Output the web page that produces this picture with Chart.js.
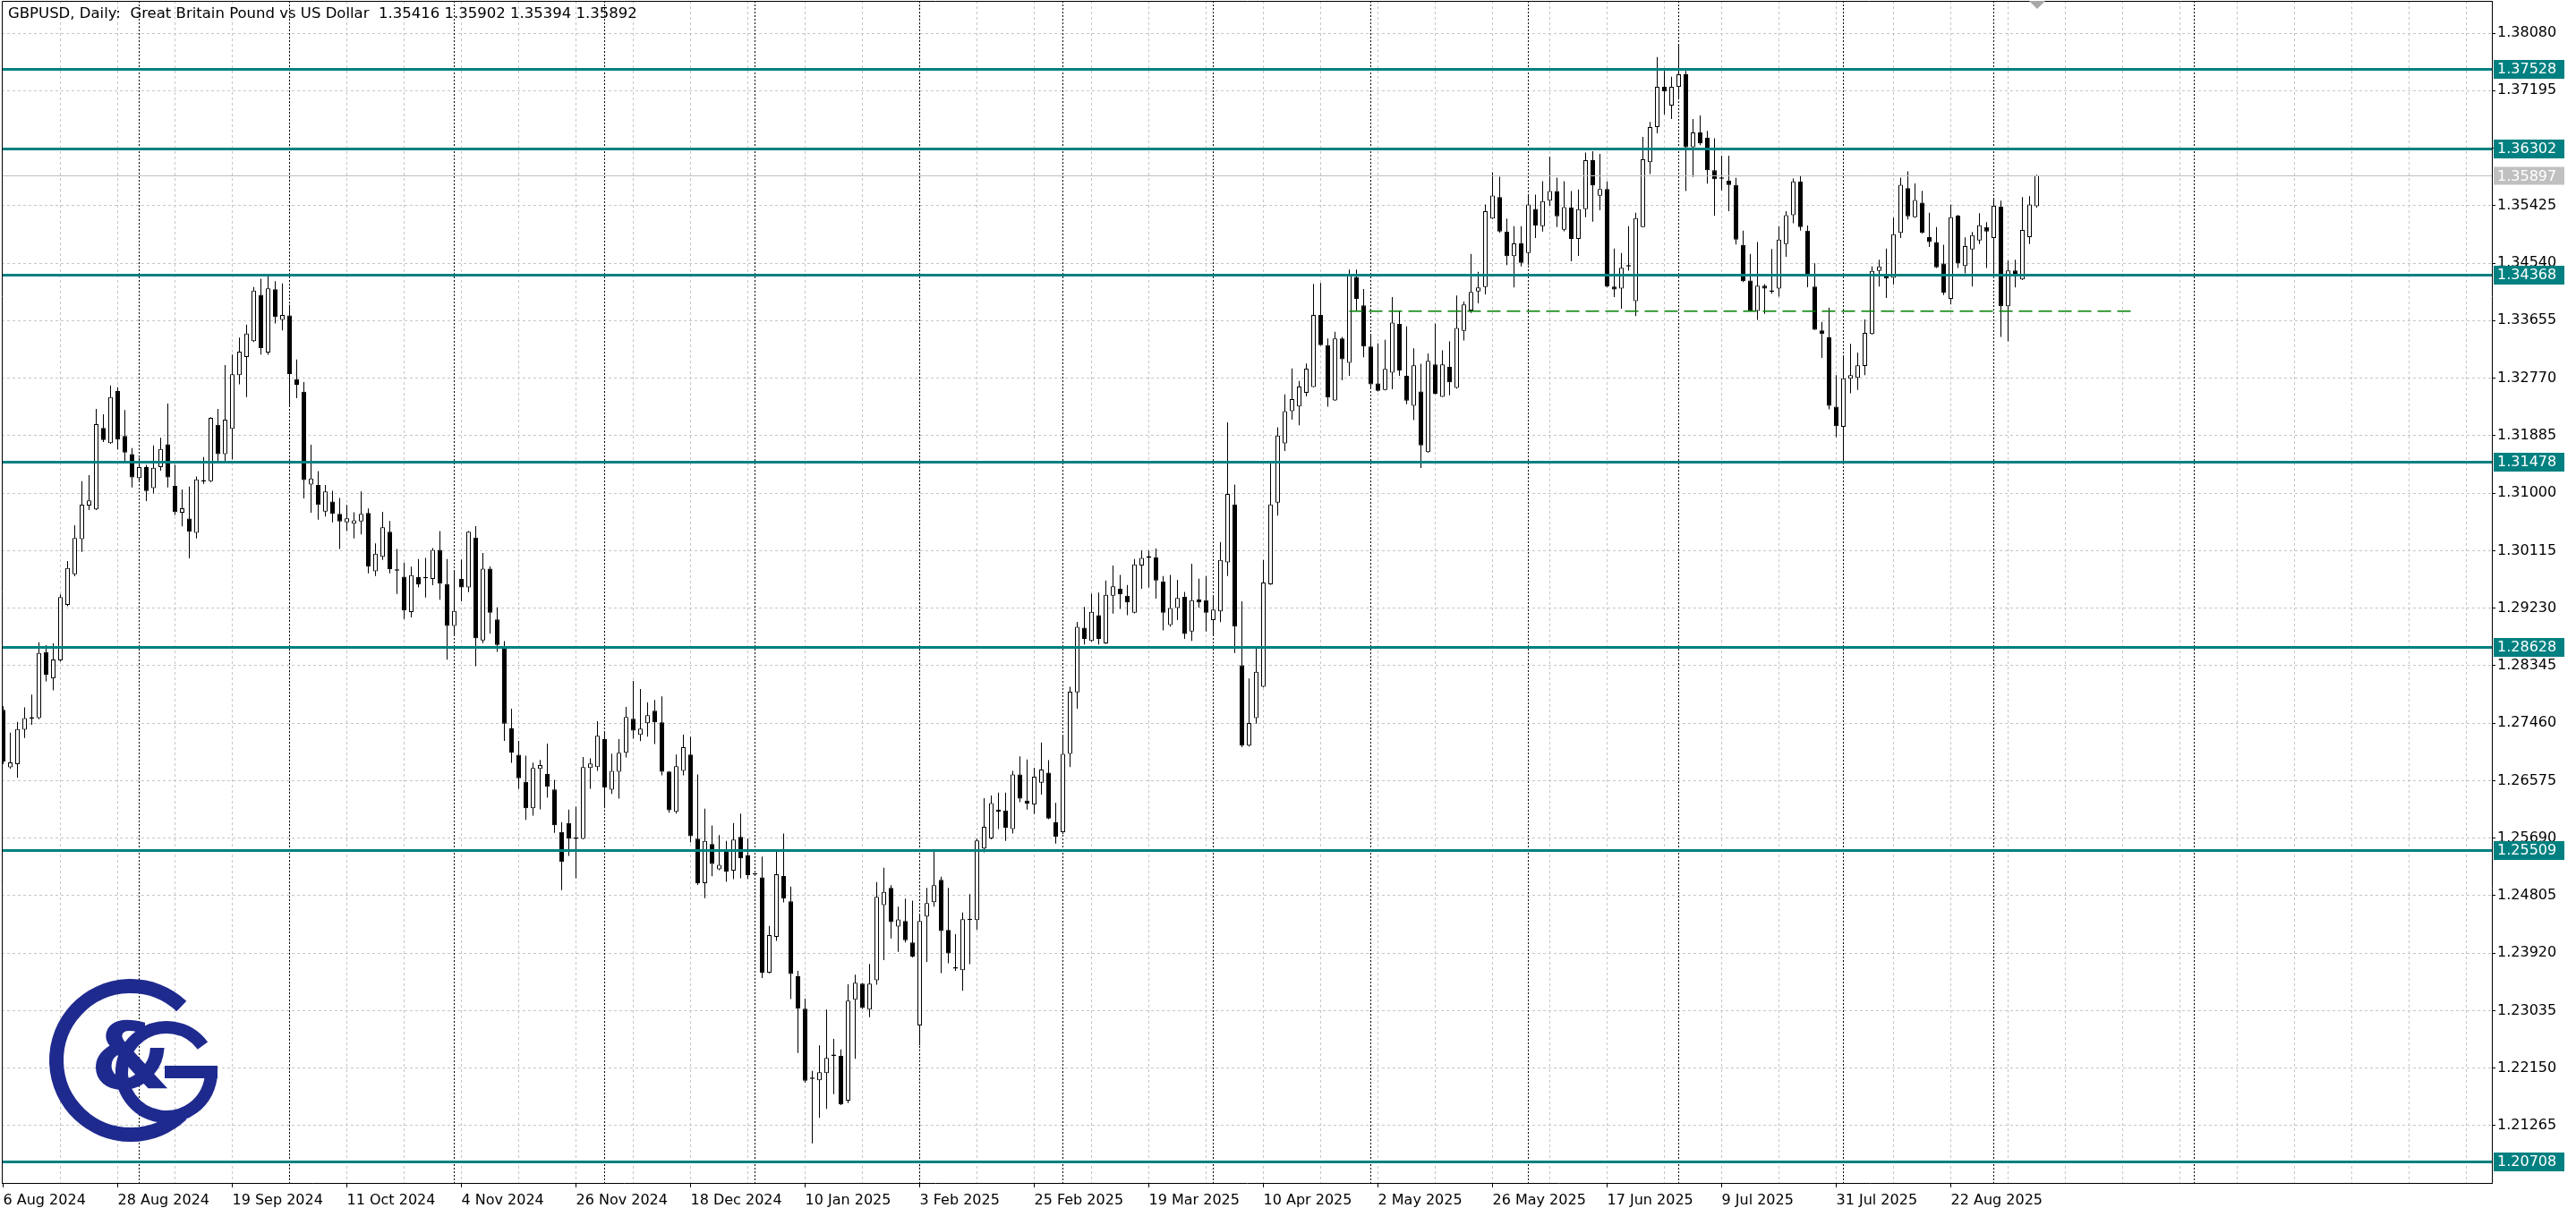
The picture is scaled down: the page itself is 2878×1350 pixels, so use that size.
<!DOCTYPE html>
<html>
<head>
<meta charset="utf-8">
<script src="https://cdn.jsdelivr.net/npm/chart.js@4.4.1/dist/chart.umd.min.js"></script>
<style>
  html, body { margin: 0; padding: 0; background: #fff; overflow: hidden; }
  canvas { display: block; }
</style>
</head>
<body>
<canvas id="chart" width="2878" height="1350"></canvas>
<script>
// GBPUSD daily bars, 6 Aug 2024 .. Sep 2025 (one value per bar)
const opens = [
  1.27664,1.26779,1.26829,1.27358,1.27530,1.27536,1.28555,1.28149,1.28427,1.29279,
  1.29752,1.30292,1.30810,1.30749,1.32002,1.31768,1.32570,1.31879,1.31601,1.31233,
  1.31400,1.31077,1.31400,1.31751,1.31111,1.30699,1.30610,1.30387,1.31180,1.31183,
  1.32052,1.31601,1.31990,1.32815,1.33093,1.33338,1.34053,1.33162,1.34138,1.33665,
  1.33736,1.32755,1.32560,1.31131,1.31125,1.30717,1.30871,1.30682,1.30552,1.30528,
  1.30564,1.30694,1.29796,1.30020,1.30404,1.29810,1.29713,1.29170,1.29707,1.29690,
  1.29678,1.30127,1.29601,1.28957,1.29678,1.29548,1.30316,1.28733,1.29837,1.29057,
  1.28615,1.27380,1.26972,1.26555,1.26151,1.26757,1.26678,1.26440,1.25784,1.25922,
  1.25683,1.25679,1.26770,1.26784,1.27215,1.26435,1.26711,1.27004,1.27527,1.27279,
  1.27458,1.27651,1.27472,1.26715,1.26096,1.26724,1.26977,1.25683,1.24995,1.25600,
  1.25211,1.25477,1.25188,1.25711,1.25431,1.25133,1.25087,1.23619,1.24170,1.25107,
  1.24719,1.23566,1.23065,1.21985,1.21962,1.22073,1.22340,1.22339,1.21650,1.23203,
  1.23451,1.23051,1.23501,1.24659,1.24926,1.24328,1.24416,1.24085,1.22808,1.24485,
  1.24705,1.25050,1.24278,1.23680,1.23658,1.24430,1.24429,1.25532,1.25684,1.26130,
  1.26115,1.25831,1.26671,1.26267,1.26207,1.26542,1.26697,1.25932,1.25780,1.26987,
  1.27932,1.28930,1.28727,1.29121,1.28686,1.29422,1.29527,1.29422,1.29161,1.29886,
  1.30002,1.30014,1.29643,1.28970,1.29231,1.29405,1.28871,1.29364,1.29353,1.29045,
  1.29179,1.29933,1.30825,1.28350,1.27115,1.27538,1.28019,1.29596,1.30854,1.31765,
  1.32263,1.32333,1.32545,1.32635,1.33741,1.33276,1.32428,1.33382,1.33004,1.34327,
  1.33889,1.33257,1.32690,1.32589,1.32852,1.33603,1.32806,1.32345,1.32566,1.31630,
  1.32981,1.32483,1.32944,1.32621,1.33497,1.33810,1.34105,1.34174,1.35225,1.35557,
  1.35027,1.34649,1.34843,1.34695,1.35373,1.35110,1.35502,1.35649,1.35054,1.35398,
  1.34912,1.35370,1.36126,1.35576,1.35682,1.34179,1.34147,1.34490,1.33955,1.35095,
  1.36094,1.36635,1.37253,1.36965,1.37253,1.37446,1.36323,1.36552,1.36470,1.35971,
  1.35842,1.35810,1.35741,1.34821,1.34271,1.33804,1.34193,1.34105,1.34147,1.34834,
  1.35279,1.35796,1.35041,1.34179,1.33506,1.33396,1.32331,1.32022,1.32760,1.32773,
  1.32958,1.33451,1.34419,1.34350,1.34313,1.35004,1.35695,1.35248,1.35470,1.34940,
  1.34866,1.34534,1.33990,1.35271,1.34497,1.34751,1.34889,1.35096,1.34926,1.35410,
  1.33875,1.34428,1.34290,1.34940,1.35416
];
const highs = [
  1.27720,1.27313,1.27480,1.27703,1.27898,1.28705,1.28661,1.28689,1.29440,1.29953,
  1.30504,1.31183,1.31278,1.32297,1.32213,1.32659,1.32631,1.32280,1.31695,1.31545,
  1.31434,1.31734,1.31851,1.32380,1.31434,1.31055,1.31100,1.31255,1.31556,1.32170,
  1.32297,1.32970,1.33132,1.33394,1.33594,1.34173,1.34301,1.34360,1.34262,1.34226,
  1.33901,1.33057,1.32708,1.31745,1.31338,1.31125,1.31036,1.30924,1.30818,1.30706,
  1.31025,1.30765,1.30227,1.30712,1.30570,1.30139,1.29932,1.29867,1.29985,1.30003,
  1.30156,1.30416,1.29985,1.29814,1.29979,1.30416,1.30493,1.30079,1.29873,1.29241,
  1.28721,1.27681,1.27185,1.26960,1.26853,1.26894,1.27146,1.26587,1.25935,1.26128,
  1.26174,1.26940,1.26917,1.27490,1.27334,1.26990,1.27215,1.27711,1.28110,1.27986,
  1.27779,1.27816,1.27871,1.26720,1.26977,1.27284,1.27252,1.26669,1.26142,1.25885,
  1.25738,1.25646,1.25922,1.26068,1.25683,1.25150,1.25408,1.24339,1.25509,1.25762,
  1.24944,1.23648,1.23221,1.22109,1.22500,1.23051,1.22601,1.22440,1.23442,1.23589,
  1.23460,1.23754,1.25013,1.25233,1.24967,1.24636,1.24760,1.24728,1.24521,1.24926,
  1.25486,1.25096,1.24926,1.24213,1.24544,1.24829,1.25684,1.26304,1.26345,1.26391,
  1.26391,1.26726,1.26950,1.26900,1.26772,1.27161,1.26889,1.26233,1.27260,1.28019,
  1.29017,1.29248,1.29451,1.29469,1.29654,1.29886,1.29741,1.29585,1.29985,1.30118,
  1.30118,1.30147,1.29724,1.29741,1.29666,1.29480,1.29915,1.29683,1.29724,1.29405,
  1.30246,1.32089,1.31133,1.29335,1.28147,1.28611,1.29973,1.31463,1.32014,1.32518,
  1.32918,1.32727,1.32995,1.34221,1.34234,1.33382,1.33483,1.33405,1.34442,1.34442,
  1.34142,1.33442,1.33303,1.33359,1.34018,1.33796,1.33566,1.33230,1.32990,1.33151,
  1.33612,1.33197,1.33336,1.34041,1.33949,1.34681,1.34405,1.35442,1.35940,1.35871,
  1.35225,1.35110,1.35110,1.35603,1.35594,1.35801,1.36179,1.35857,1.35801,1.35650,
  1.35673,1.36241,1.36264,1.36222,1.35796,1.34766,1.34697,1.35109,1.35315,1.36484,
  1.36713,1.37711,1.37500,1.37409,1.37913,1.37500,1.36758,1.36813,1.36575,1.36461,
  1.36195,1.36195,1.35851,1.35041,1.34683,1.34866,1.34216,1.34756,1.35109,1.35338,
  1.35842,1.35879,1.35118,1.34537,1.33635,1.33856,1.32815,1.33119,1.33299,1.33165,
  1.33672,1.34488,1.34594,1.34764,1.35239,1.35857,1.35954,1.35765,1.35654,1.35317,
  1.35096,1.34824,1.35442,1.35281,1.34935,1.35018,1.35308,1.35170,1.35525,1.35502,
  1.34580,1.34594,1.35557,1.35571,1.35902
];
const lows = [
  1.26830,1.26760,1.26617,1.27230,1.27436,1.27520,1.28104,1.27965,1.28410,1.29260,
  1.29719,1.30097,1.30738,1.30740,1.31785,1.31760,1.31668,1.31489,1.31088,1.31166,
  1.30877,1.30999,1.31345,1.31088,1.30665,1.30487,1.29997,1.30303,1.31144,1.31170,
  1.31489,1.31489,1.31517,1.32675,1.32480,1.33327,1.33132,1.33130,1.33612,1.33506,
  1.32354,1.32460,1.30918,1.30700,1.30593,1.30641,1.30552,1.30139,1.30416,1.30304,
  1.30363,1.29766,1.29725,1.29973,1.29766,1.29448,1.29063,1.29087,1.29548,1.29394,
  1.29583,1.29359,1.28437,1.28821,1.29335,1.29477,1.28337,1.28691,1.28839,1.28556,
  1.27185,1.26848,1.26447,1.25970,1.26036,1.26133,1.26312,1.25770,1.24890,1.25417,
  1.25073,1.25670,1.26449,1.26724,1.26151,1.26371,1.26298,1.26931,1.27220,1.27183,
  1.27252,1.27137,1.26656,1.26082,1.26068,1.26656,1.25624,1.24968,1.24766,1.25105,
  1.25197,1.25018,1.25059,1.25073,1.25059,1.25110,1.23536,1.23610,1.24110,1.24700,
  1.23212,1.22385,1.21926,1.20993,1.21384,1.21521,1.21751,1.21580,1.21613,1.22293,
  1.23060,1.22936,1.23432,1.23813,1.24145,1.23938,1.24085,1.23855,1.22500,1.23786,
  1.24636,1.23612,1.23763,1.23648,1.23341,1.23750,1.24282,1.25472,1.25670,1.25831,
  1.25647,1.25762,1.26244,1.26129,1.26060,1.26360,1.25980,1.25607,1.25750,1.26784,
  1.27683,1.28669,1.28710,1.28669,1.28680,1.29144,1.29219,1.29121,1.29150,1.29527,
  1.29550,1.29376,1.28889,1.28947,1.29045,1.28756,1.28727,1.29237,1.28871,1.28813,
  1.29016,1.29724,1.28541,1.27091,1.27100,1.27451,1.28010,1.29590,1.30652,1.31649,
  1.32130,1.32043,1.32490,1.32630,1.33270,1.32331,1.32420,1.32736,1.32806,1.33796,
  1.33091,1.32598,1.32566,1.32580,1.32598,1.32806,1.32368,1.32123,1.31386,1.31620,
  1.32520,1.32480,1.32506,1.32610,1.33349,1.33773,1.33921,1.34059,1.35220,1.35009,
  1.34511,1.34165,1.34488,1.34511,1.34926,1.35027,1.35423,1.35096,1.35030,1.34569,
  1.34651,1.35247,1.35178,1.35352,1.34170,1.34019,1.33840,1.34422,1.33726,1.35090,
  1.35911,1.36539,1.36827,1.36758,1.37056,1.35650,1.35865,1.36355,1.35764,1.35270,
  1.35659,1.35338,1.34825,1.34248,1.33800,1.33666,1.33758,1.34069,1.34024,1.34637,
  1.35155,1.35041,1.34170,1.33510,1.33082,1.32289,1.31861,1.31492,1.32538,1.32589,
  1.32815,1.33440,1.34179,1.34004,1.34211,1.34926,1.35211,1.35240,1.34995,1.34787,
  1.34465,1.34050,1.33903,1.34465,1.34382,1.34179,1.34834,1.34465,1.34373,1.33405,
  1.33336,1.34165,1.34280,1.34834,1.35394
];
const closes = [
  1.26868,1.26857,1.27369,1.27536,1.27540,1.28538,1.28204,1.28438,1.29401,1.29847,
  1.30309,1.30821,1.30888,1.32063,1.31818,1.32480,1.31829,1.31623,1.31244,1.31400,
  1.31033,1.31389,1.31679,1.31244,1.30710,1.30766,1.30404,1.31211,1.31200,1.32157,
  1.31601,1.32130,1.32831,1.33176,1.33455,1.34117,1.33233,1.34150,1.33712,1.33742,
  1.32832,1.32667,1.31202,1.31225,1.30818,1.31025,1.30682,1.30564,1.30611,1.30582,
  1.30682,1.29873,1.30068,1.30475,1.29831,1.29805,1.29193,1.29737,1.29595,1.29700,
  1.30127,1.29607,1.28957,1.29188,1.29548,1.30404,1.28768,1.29837,1.29158,1.28662,
  1.27451,1.27008,1.26612,1.26150,1.26770,1.26816,1.26481,1.25890,1.25325,1.25683,
  1.25680,1.26784,1.26839,1.27266,1.26472,1.26724,1.27004,1.27555,1.27344,1.27376,
  1.27582,1.27472,1.26711,1.26119,1.26798,1.27091,1.25720,1.24995,1.25646,1.25293,
  1.25280,1.25174,1.25669,1.25380,1.25119,1.25130,1.23619,1.24197,1.25133,1.24760,
  1.23598,1.23065,1.21958,1.21990,1.22087,1.22307,1.22345,1.21590,1.23189,1.23465,
  1.23074,1.23451,1.24788,1.24861,1.24397,1.24439,1.24117,1.23869,1.24416,1.24691,
  1.24967,1.24259,1.23915,1.23684,1.24443,1.24434,1.25656,1.25863,1.26230,1.26100,
  1.25849,1.26671,1.26299,1.26221,1.26634,1.26746,1.25990,1.25712,1.26987,1.27944,
  1.28941,1.28756,1.29173,1.28756,1.29434,1.29567,1.29446,1.29318,1.29904,1.30002,
  1.30030,1.29654,1.29161,1.29231,1.29388,1.28831,1.29353,1.29318,1.29161,1.29208,
  1.29973,1.30988,1.28947,1.27115,1.27463,1.28251,1.29625,1.30826,1.31886,1.32263,
  1.32449,1.32640,1.32915,1.33741,1.33276,1.32474,1.33382,1.33059,1.34350,1.33990,
  1.33257,1.32676,1.32575,1.32912,1.33626,1.32889,1.32423,1.32967,1.31736,1.33036,
  1.32529,1.32981,1.32704,1.33543,1.33903,1.34096,1.34165,1.35341,1.35580,1.35027,
  1.34649,1.34843,1.34543,1.35442,1.35119,1.35493,1.35649,1.35262,1.35400,1.34912,
  1.35370,1.36126,1.35737,1.35682,1.34179,1.34133,1.34468,1.34495,1.35233,1.36140,
  1.36635,1.37253,1.37184,1.37253,1.37446,1.36323,1.36552,1.36383,1.35971,1.35833,
  1.35838,1.35741,1.34903,1.34262,1.33804,1.34193,1.34147,1.34100,1.34903,1.35279,
  1.35796,1.35095,1.34376,1.33515,1.33451,1.32345,1.32031,1.32769,1.32815,1.32967,
  1.33465,1.34419,1.34488,1.34303,1.34986,1.35746,1.35262,1.35511,1.35004,1.34866,
  1.34474,1.34087,1.35248,1.34534,1.34801,1.34972,1.35124,1.35027,1.35423,1.33875,
  1.34428,1.34340,1.35050,1.35442,1.35892
];

// time axis labels and the bar each one sits on
const dateLabels = ["6 Aug 2024", "28 Aug 2024", "19 Sep 2024", "11 Oct 2024", "4 Nov 2024", "26 Nov 2024",
  "18 Dec 2024", "10 Jan 2025", "3 Feb 2025", "25 Feb 2025", "19 Mar 2025", "10 Apr 2025",
  "2 May 2025", "26 May 2025", "17 Jun 2025", "9 Jul 2025", "31 Jul 2025", "22 Aug 2025"];
const dateLabelBars = [0, 16, 32, 48, 64, 80, 96, 112, 128, 144, 160, 176, 192, 208, 224, 240, 256, 272];

// first bar of every month (period separators)
const monthStartBars = [19, 40, 63, 84, 105, 128, 148, 169, 191, 213, 234, 257, 278, 306];

const priceTicks = [1.38080, 1.37195, 1.36310, 1.35425, 1.34540, 1.33655, 1.32770, 1.31885, 1.31000, 1.30115,
  1.29230, 1.28345, 1.27460, 1.26575, 1.25690, 1.24805, 1.23920, 1.23035, 1.22150, 1.21265];

// horizontal levels drawn on the chart
const levels = [1.37528, 1.36302, 1.34368, 1.31478, 1.28628, 1.25509, 1.20708];
const bidPrice = 1.35897;
const supportBars = [188, 298];
const supportPrice = 1.33800;

const headerText = "GBPUSD, Daily:  Great Britain Pound vs US Dollar  1.35416 1.35902 1.35394 1.35892";

const TEAL = "#008080";
const GRID = "#c6c6c6";
const FONT = '"DejaVu Sans", sans-serif';
const LOGO = "#1f2a8f";

// chart data built from the arrays above
const bodies = opens.map((o, i) => ({ x: i, y: [o, closes[i]] }));
const wicks = lows.map((l, i) => ({ x: i, y: [l, highs[i]] }));
const bodyColors = opens.map((o, i) => (closes[i] >= o ? "#ffffff" : "#000000"));
const supportData = supportBars.map(b => ({ x: b, y: supportPrice }));

const gridBars = [];
for (let b = 0; b <= 344; b += 8) gridBars.push(b);

function labelFor(value) {
  const k = dateLabelBars.indexOf(value);
  return k >= 0 ? dateLabels[k] : "";
}

function drawLogo(ctx) {
  ctx.save();
  ctx.strokeStyle = LOGO;
  ctx.fillStyle = LOGO;
  ctx.lineCap = "butt";
  // outer C
  ctx.lineWidth = 16;
  ctx.beginPath();
  ctx.arc(146, 1185, 83, -0.26 * Math.PI, 0.26 * Math.PI, true);
  ctx.stroke();
  // G
  ctx.lineWidth = 14;
  ctx.beginPath();
  ctx.arc(186, 1198, 50, -0.2 * Math.PI, 0, true);
  ctx.stroke();
  ctx.fillRect(184, 1191, 59, 14);
  // ampersand
  ctx.font = 'bold 104px "DejaVu Sans", sans-serif';
  ctx.textAlign = "center";
  ctx.textBaseline = "middle";
  ctx.fillText("&", 146, 1190);
  ctx.restore();
}

const overlay = {
  id: "overlay",
  beforeDatasetsDraw(chart) {
    const { ctx, chartArea: a, scales: { x } } = chart;
    ctx.save();
    ctx.strokeStyle = "#000";
    ctx.lineWidth = 1;
    ctx.setLineDash([2, 2]);
    monthStartBars.forEach(b => {
      const px = Math.floor(x.getPixelForValue(b)) + 0.5;
      ctx.beginPath();
      ctx.moveTo(px, a.top);
      ctx.lineTo(px, a.bottom);
      ctx.stroke();
    });
    ctx.restore();
  },
  afterDatasetsDraw(chart) {
    const { ctx, chartArea: a, scales: { y } } = chart;
    ctx.save();

    // bid line
    const by = Math.round(y.getPixelForValue(bidPrice)) + 0.5;
    ctx.strokeStyle = "#c0c0c0";
    ctx.lineWidth = 1;
    ctx.beginPath();
    ctx.moveTo(a.left, by);
    ctx.lineTo(a.right, by);
    ctx.stroke();

    // level lines
    ctx.strokeStyle = TEAL;
    ctx.lineWidth = 3;
    levels.forEach(p => {
      const py = Math.round(y.getPixelForValue(p)) + 0.5;
      ctx.beginPath();
      ctx.moveTo(a.left, py);
      ctx.lineTo(a.right, py);
      ctx.stroke();
    });

    // frame left and top
    ctx.strokeStyle = "#000";
    ctx.lineWidth = 1;
    ctx.beginPath();
    ctx.moveTo(a.left + 0.5, a.bottom);
    ctx.lineTo(a.left + 0.5, a.top + 0.5);
    ctx.lineTo(a.right, a.top + 0.5);
    ctx.stroke();

    // header
    ctx.fillStyle = "#000";
    ctx.font = "16.5px " + FONT;
    ctx.textBaseline = "middle";
    ctx.textAlign = "left";
    ctx.fillText(headerText, 9, 16);

    // price boxes on the axis
    ctx.font = "16px " + FONT;
    const boxX = a.right + 2;
    levels.forEach(p => {
      const py = Math.round(y.getPixelForValue(p));
      ctx.fillStyle = TEAL;
      ctx.fillRect(boxX, py - 10, 79, 21);
      ctx.fillStyle = "#fff";
      ctx.fillText(p.toFixed(5), boxX + 4, py + 1);
    });
    ctx.fillStyle = "#c0c0c0";
    ctx.fillRect(boxX, by - 10, 79, 20);
    ctx.fillStyle = "#fff";
    ctx.fillText(bidPrice.toFixed(5), boxX + 4, by + 1);

    // shift marker
    ctx.fillStyle = "#a8a8a8";
    ctx.beginPath();
    ctx.moveTo(2267, 1);
    ctx.lineTo(2285, 1);
    ctx.lineTo(2276, 10);
    ctx.closePath();
    ctx.fill();

    drawLogo(ctx);
    ctx.restore();
  }
};

new Chart(document.getElementById("chart"), {
  type: "bar",
  data: {
    datasets: [
      {
        type: "line",
        data: supportData,
        borderColor: "#008000",
        borderWidth: 1.5,
        borderDash: [15, 7],
        pointRadius: 0,
        order: 0
      },
      {
        data: bodies,
        backgroundColor: bodyColors,
        borderColor: "#000",
        borderWidth: 1,
        borderSkipped: false,
        grouped: false,
        maxBarThickness: 5,
        barPercentage: 1,
        categoryPercentage: 1,
        inflateAmount: 0,
        minBarLength: 1.5,
        order: 1
      },
      {
        data: wicks,
        backgroundColor: "#000",
        borderWidth: 0,
        grouped: false,
        maxBarThickness: 1,
        barPercentage: 1,
        categoryPercentage: 1,
        inflateAmount: 0,
        order: 2
      }
    ]
  },
  options: {
    responsive: false,
    animation: false,
    events: [],
    layout: { padding: { left: 2, top: 1, right: 0, bottom: 0 } },
    plugins: {
      legend: { display: false },
      tooltip: { enabled: false }
    },
    scales: {
      x: {
        type: "linear",
        offset: false,
        min: -0.1875,
        max: 347.5625,
        afterBuildTicks: s => { s.ticks = gridBars.map(v => ({ value: v })); },
        afterFit: s => { s.height = 28; s.paddingLeft = 0; s.paddingRight = 0; },
        grid: {
          offset: false,
          color: c => (c.tick && c.tick.value === 0 ? "rgba(0,0,0,0)" : GRID),
          tickColor: c => (c.tick && labelFor(c.tick.value) ? "#000" : "rgba(0,0,0,0)"),
          tickBorderDash: [],
          tickLength: 5,
          lineWidth: 1
        },
        border: { display: true, color: "#000", width: 1, dash: [3, 3] },
        ticks: {
          autoSkip: false,
          maxRotation: 0,
          minRotation: 0,
          align: "start",
          padding: 5,
          color: "#000",
          font: { family: FONT, size: 16 },
          callback: v => labelFor(v)
        }
      },
      y: {
        type: "linear",
        position: "right",
        min: 1.20383,
        max: 1.38576,
        afterBuildTicks: s => { s.ticks = priceTicks.map(v => ({ value: v })); },
        afterFit: s => { s.width = 94; s.paddingTop = 0; s.paddingBottom = 0; },
        grid: {
          color: GRID,
          tickColor: "#000",
          tickBorderDash: [],
          tickLength: 4,
          lineWidth: 1
        },
        border: { display: true, color: "#000", width: 1, dash: [3, 3] },
        ticks: {
          padding: 2,
          color: "#000",
          font: { family: FONT, size: 16 },
          callback: v => v.toFixed(5)
        }
      }
    }
  },
  plugins: [overlay]
});
</script>
</body>
</html>
